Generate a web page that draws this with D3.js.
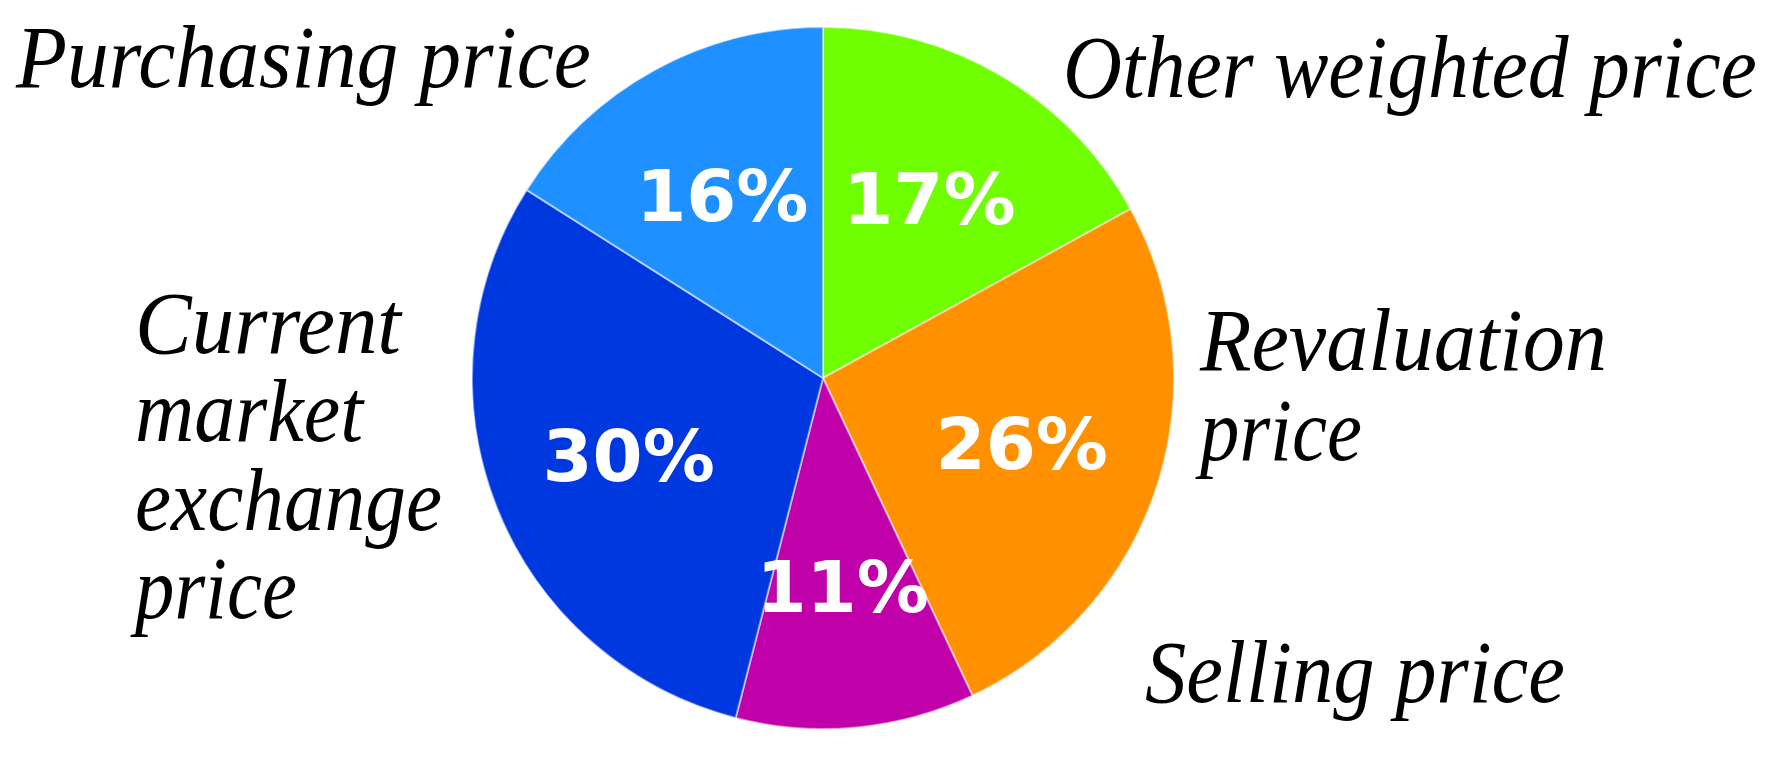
<!DOCTYPE html>
<html>
<head>
<meta charset="utf-8">
<script src="https://cdn.jsdelivr.net/npm/d3@7"></script>
<style>
  html, body { margin: 0; padding: 0; background: #fff; }
  svg { display: block; }
  .cat-label { font-family: 'Liberation Serif', 'Times New Roman', serif; font-style: italic; font-size: 88px; fill: #000; }
  .pct-label { font-family: 'DejaVu Sans', Verdana, sans-serif; font-weight: bold; font-size: 72px; fill: #fff; }
</style>
</head>
<body>
<svg></svg>
<script>
// slices, clockwise from 12 o'clock
const categories = ['Other weighted price', 'Revaluation price', 'Selling price',
                    'Current market exchange price', 'Purchasing price'];
const shares = [17, 26, 11, 30, 16];
const sliceColors = ['#70ff00', '#ff9100', '#c000a8', '#0038e0', '#1e90ff'];

// how each category name is broken into lines
const labelLines = [
  ['Other weighted price'],
  ['Revaluation', 'price'],
  ['Selling price'],
  ['Current', 'market', 'exchange', 'price'],
  ['Purchasing price']
];

const width = 1781;
const height = 760;

const svg = d3.select('svg')
  .attr('width', width)
  .attr('height', height);

const cx = 823;
const cy = 378;
const radius = 351;

// outer label anchors (left edge of first baseline), relative to pie centre
const labelAnchor = [
  { dx: 240, dy: -281 },
  { dx: 377, dy: -8 },
  { dx: 322, dy: 324 },
  { dx: -688, dy: -25 },
  { dx: -807, dy: -291 }
];
const lineGap = [0, 90, 0, 88.3, 0];
// the reference face is narrower than Liberation Serif, squeeze each line
const lineWidth = {
  'Other weighted price': 694,
  'Revaluation': 407,
  'Selling price': 420,
  'Current': 266,
  'market': 228,
  'exchange': 307,
  'price': 162,
  'Purchasing price': 575
};

const data = categories.map((c, i) => ({
  category: c,
  value: shares[i],
  color: sliceColors[i],
  lines: labelLines[i]
}));

const pie = d3.pie()
  .sort(null)
  .value(d => d.value);

const arc = d3.arc()
  .innerRadius(0)
  .outerRadius(radius);

const labelArc = d3.arc()
  .innerRadius(209)
  .outerRadius(209);

const g = svg.append('g')
  .attr('transform', `translate(${cx},${cy})`);

g.selectAll('path')
  .data(pie(data))
  .enter().append('path')
    .attr('d', arc)
    .attr('fill', d => d.data.color)
    .attr('stroke', 'rgba(255,255,255,0.5)')
    .attr('stroke-width', 2);

g.selectAll('.pct-label')
  .data(pie(data))
  .enter().append('text')
    .attr('class', 'pct-label')
    .attr('text-anchor', 'middle')
    .attr('x', d => labelArc.centroid(d)[0])
    .attr('y', d => labelArc.centroid(d)[1])
    .attr('dy', '0.36em')
    .text(d => d.data.value + '%');

// one text element per line, squeezed horizontally with a scale transform
g.selectAll('.cat-label')
  .data(data.flatMap((d, i) => d.lines.map((l, j) => ({ text: l, i: i, j: j }))))
  .enter().append('text')
    .attr('class', 'cat-label')
    .text(d => d.text)
    .attr('transform', function(d) {
      const sx = lineWidth[d.text] / this.getComputedTextLength();
      const x = labelAnchor[d.i].dx;
      const y = labelAnchor[d.i].dy + d.j * lineGap[d.i];
      return `translate(${x},${y}) scale(${sx},1)`;
    });
</script>
</body>
</html>
